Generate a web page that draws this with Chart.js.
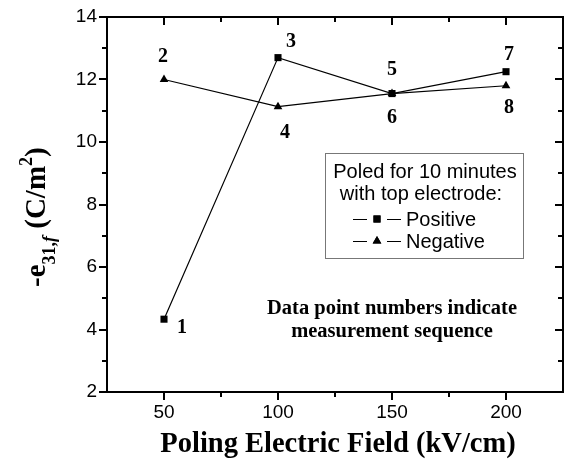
<!DOCTYPE html>
<html>
<head>
<meta charset="utf-8">
<script src="https://cdn.jsdelivr.net/npm/chart.js@4.4.1/dist/chart.umd.min.js"></script>
<style>
  html, body { margin: 0; padding: 0; background: #fff; }
  #wrap { width: 568px; height: 459px; }
</style>
</head>
<body>
<div id="wrap"><canvas id="myChart" width="568" height="459"></canvas></div>
<script>
// poling field (kV/cm)
const fields = [50, 100, 150, 200]
// -e31,f values
const positive = [4.33, 12.7, 11.55, 12.25]
const negative = [12.0, 11.13, 11.55, 11.8]
// measurement order: [dataset, index]
const sequence = [[0, 0], [1, 0], [0, 1], [1, 1], [0, 2], [1, 2], [0, 3], [1, 3]]

const xTicks = [50, 100, 150, 200]
const xMinor = [75, 125, 175]
const yTicks = [2, 4, 6, 8, 10, 12, 14]
const yMinor = [3, 5, 7, 9, 11, 13]

// where each sequence number sits relative to its point (px)
const labelOffsets = [[18, 14], [-1, -18], [13, -11], [7, 31], [0, -19], [0, 29], [3, -12], [3, 27]]

const SANS = '"Liberation Sans", Arial, sans-serif'
const SERIF = '"Liberation Serif", "Times New Roman", serif'

const toPoints = (vals) => fields.map((f, i) => ({ x: f, y: vals[i] }))

// frame, ticks, labels, legend and titles
const decorations = {
  id: 'decorations',
  afterDraw(chart) {
    const { ctx, chartArea: a, scales } = chart
    const xs = scales.x, ys = scales.y
    ctx.save()
    ctx.strokeStyle = '#000'
    ctx.fillStyle = '#000'

    // ticks: outward on left/bottom, inward on top/right
    ctx.lineWidth = 2
    const tick = (x1, y1, x2, y2) => { ctx.beginPath(); ctx.moveTo(x1, y1); ctx.lineTo(x2, y2); ctx.stroke() }
    xTicks.forEach(v => {
      const px = Math.round(xs.getPixelForValue(v))
      tick(px, a.bottom, px, a.bottom + 8)
      tick(px, a.top, px, a.top + 8)
    })
    xMinor.forEach(v => {
      const px = Math.round(xs.getPixelForValue(v))
      tick(px, a.bottom, px, a.bottom + 5)
      tick(px, a.top, px, a.top + 5)
    })
    yTicks.forEach(v => {
      const py = Math.round(ys.getPixelForValue(v))
      tick(a.left - 8, py, a.left, py)
      tick(a.right - 8, py, a.right, py)
    })
    yMinor.forEach(v => {
      const py = Math.round(ys.getPixelForValue(v))
      tick(a.left - 5, py, a.left, py)
      tick(a.right - 5, py, a.right, py)
    })

    // frame
    ctx.strokeRect(a.left, a.top, a.right - a.left, a.bottom - a.top)

    // sequence numbers
    ctx.font = 'bold 20px ' + SERIF
    ctx.textAlign = 'center'
    ctx.textBaseline = 'alphabetic'
    sequence.forEach(([ds, idx], n) => {
      const pt = chart.getDatasetMeta(ds).data[idx]
      const [dx, dy] = labelOffsets[n]
      ctx.fillText(String(n + 1), pt.x + dx, pt.y + dy)
    })

    // note
    ctx.font = 'bold 20.5px ' + SERIF
    ctx.fillText('Data point numbers indicate', 392, 314)
    ctx.fillText('measurement sequence', 392, 337)

    // legend box
    const lx = 325, ly = 153, lw = 198, lh = 105
    ctx.lineWidth = 1
    ctx.strokeStyle = '#777'
    ctx.strokeRect(lx + 0.5, ly + 0.5, lw, lh)
    ctx.strokeStyle = '#000'
    ctx.font = '20px ' + SANS
    ctx.fillText('Poled for 10 minutes', 425, 178)
    ctx.fillText('with top electrode:', 421, 200)
    ctx.textAlign = 'left'
    chart.data.datasets.forEach((d, i) => {
      const by = 226 + i * 22
      const my = by - 7
      ctx.beginPath(); ctx.moveTo(353, my + 0.5); ctx.lineTo(367, my + 0.5); ctx.stroke()
      ctx.beginPath(); ctx.moveTo(387, my + 0.5); ctx.lineTo(401, my + 0.5); ctx.stroke()
      Chart.helpers.drawPoint(ctx, { pointStyle: d.pointStyle, radius: d.pointRadius, borderWidth: 0 }, 377, my)
      ctx.fill()
      ctx.fillText(d.label, 406, by)
    })

    // x title
    ctx.font = 'bold 28.5px ' + SERIF
    ctx.textAlign = 'center'
    ctx.fillText('Poling Electric Field (kV/cm)', 338, 452)

    // y title with sub/superscripts
    ctx.translate(45, 287)
    ctx.rotate(-Math.PI / 2)
    ctx.textAlign = 'left'
    let x = 0
    const part = (txt, font, dy) => {
      ctx.font = font
      ctx.fillText(txt, x, dy)
      x += ctx.measureText(txt).width
    }
    part('-e', 'bold 29px ' + SERIF, 0)
    part('31,', 'bold 18px ' + SERIF, 10)
    part('f', 'italic bold 18px ' + SERIF, 10)
    part(' (C/m', 'bold 29px ' + SERIF, 0)
    part('2', 'bold 18px ' + SERIF, -13)
    part(')', 'bold 29px ' + SERIF, 0)
    ctx.restore()
  }
}

const ctx = document.getElementById('myChart')
const myChart = new Chart(ctx, {
  type: 'line',
  data: {
    datasets: [{
      label: 'Positive',
      data: toPoints(positive),
      borderColor: '#000',
      backgroundColor: '#000',
      borderWidth: 1.2,
      pointStyle: 'rect',
      pointRadius: 5,
      pointBorderWidth: 0,
      pointBackgroundColor: '#000'
    }, {
      label: 'Negative',
      data: toPoints(negative),
      borderColor: '#000',
      backgroundColor: '#000',
      borderWidth: 1.2,
      pointStyle: 'triangle',
      pointRadius: 5,
      pointBorderWidth: 0,
      pointBackgroundColor: '#000'
    }]
  },
  options: {
    responsive: false,
    animation: false,
    layout: { padding: { top: 17, right: 3, left: 0, bottom: 0 } },
    plugins: {
      legend: { display: false },
      tooltip: { enabled: false }
    },
    scales: {
      x: {
        type: 'linear',
        min: 25,
        max: 225,
        grid: { display: false },
        border: { display: false },
        afterBuildTicks: s => { s.ticks = xTicks.map(v => ({ value: v })) },
        afterFit: s => { s.height = 67 },
        ticks: { color: '#000', padding: 1, font: { family: SANS, size: 19 } }
      },
      y: {
        min: 2,
        max: 14,
        grid: { display: false },
        border: { display: false },
        afterBuildTicks: s => { s.ticks = yTicks.map(v => ({ value: v })) },
        afterFit: s => { s.width = 107 },
        ticks: { color: '#000', padding: 2, font: { family: SANS, size: 19 } }
      }
    }
  },
  plugins: [decorations]
})
</script>
</body>
</html>
